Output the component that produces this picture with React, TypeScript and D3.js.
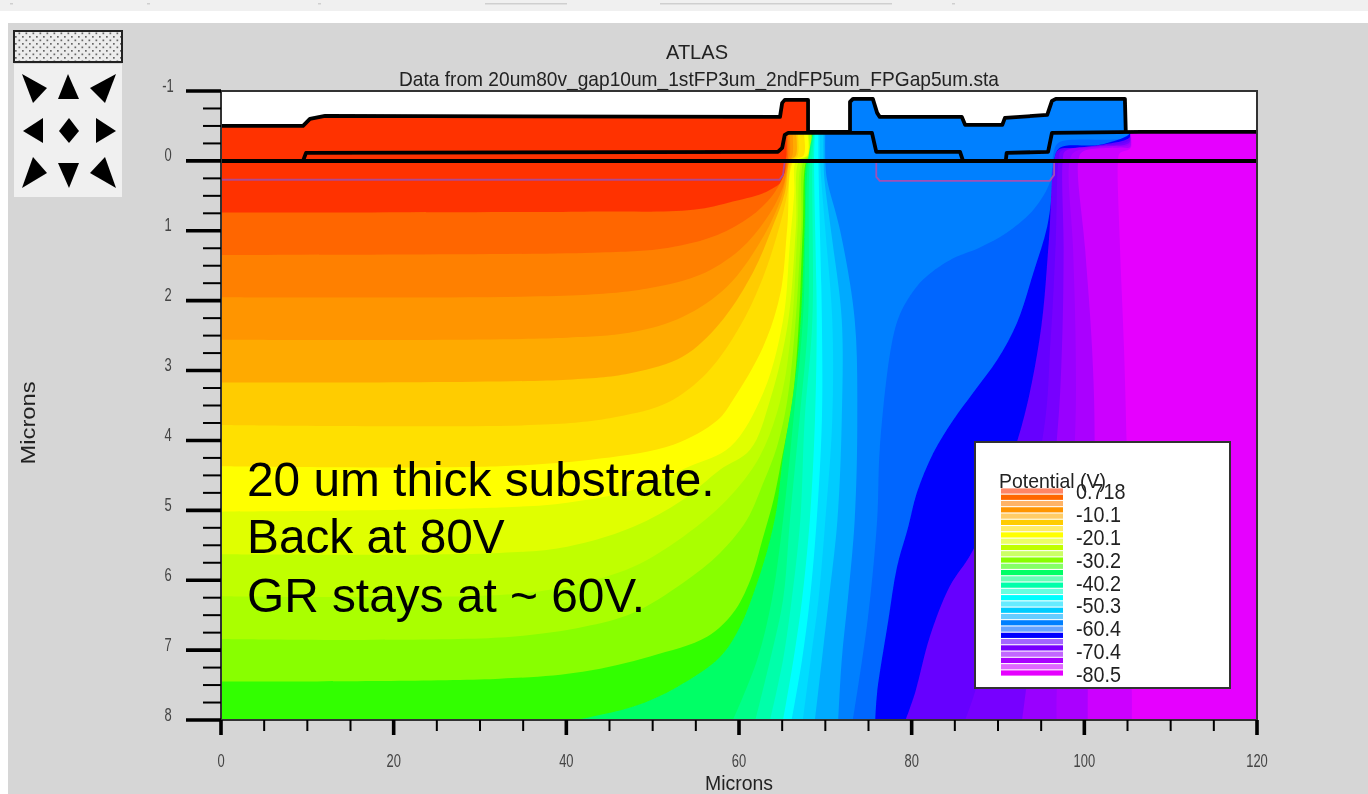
import React from 'react';
import * as d3 from 'd3';

type Pt = [number, number];

// depth axis points down, the oxide sits at negative microns
const xTickLabels = [0, 20, 40, 60, 80, 100, 120];
const yTickLabels = [-1, 0, 1, 2, 3, 4, 5, 6, 7, 8];
const legendLabels = ['0.718', '-10.1', '-20.1', '-30.2', '-40.2', '-50.3', '-60.4', '-70.4', '-80.5'];
const noteLines = ['20 um thick substrate.', 'Back at 80V', 'GR stays at ~ 60V.'];

const bandColors = [
  '#ff3300', '#ff6600', '#ff8000', '#ff9500', '#ffaa00', '#ffcc00', '#ffe000', '#ffff00', '#e0ff00', '#c0ff00',
  '#aaff00', '#88ff00', '#33ff00', '#00ff66', '#00ff88', '#00ffaa', '#00ffcc', '#00ffff', '#00ddff', '#00ccff',
  '#00aaff', '#0080ff', '#0066ff', '#0000ff', '#6600ff', '#7700ff', '#9900ff', '#aa00ff', '#cc00ff', '#e600ff',
];

// boundary i is where bandColors[i + 1] starts in microns
const contours: Pt[][] = [
  [[0, .74], [41.9, .727], [54.7, .7], [59.3, .58], [63.2, .44], [65.1, .27], [65.4, 0], [65.5, -.08], [65.5, -.415]],
  [[0, 1.345], [43.9, 1.31], [51.7, 1.245], [57.5, 1.06], [61.3, .8], [63.9, .49], [65.3, .17], [65.6, 0], [65.7, -.08], [65.7, -.415]],
  [[0, 1.95], [41.9, 1.92], [49.7, 1.82], [55.5, 1.63], [60.1, 1.27], [63.2, .82], [65.1, .37], [65.7, 0], [65.9, -.08], [65.9, -.415]],
  [[0, 2.56], [40.1, 2.53], [47.7, 2.45], [53.5, 2.23], [58.6, 1.8], [62.4, 1.17], [64.8, .56], [65.6, .13], [65.8, 0], [66.2, -.08], [66.2, -.415]],
  [[0, 3.17], [40.1, 3.13], [47.7, 3.03], [53.5, 2.8], [57.8, 2.32], [61.6, 1.6], [63.9, .94], [65.3, .46], [65.9, 0], [66.6, -.08], [66.6, -.415]],
  [[0, 3.78], [38.1, 3.77], [45.9, 3.66], [51.7, 3.46], [56.3, 3.03], [60.1, 2.37], [62.8, 1.66], [64.8, .89], [65.6, .46], [66.1, 0], [66.8, -.08], [66.8, -.415]],
  [[0, 4.37], [32.3, 4.37], [43.9, 4.26], [52.4, 4.06], [57.5, 3.71], [59.3, 3.42], [62.8, 2.66], [64.8, 1.89], [65.6, .94], [66.3, 0], [67.5, -.08], [67.5, -.415]],
  [[0, 5.02], [32.3, 4.96], [40.1, 4.89], [47.7, 4.71], [54.3, 4.37], [59, 4.09], [62.8, 3.32], [65.1, 2.28], [65.9, 1.17], [66.4, .46], [66.6, 0], [67.9, -.08], [67.9, -.415]],
  [[0, 5.63], [32.3, 5.61], [40.1, 5.52], [47.7, 5.24], [53.5, 4.85], [57.8, 4.42], [61.3, 4.13], [63.6, 3.42], [65.6, 2.37], [66.6, .94], [66.95, 0], [68, -.08], [68, -.415]],
  [[0, 6.23], [32.3, 6.21], [40.1, 6.09], [47.7, 5.81], [53.5, 5.38], [58.6, 4.85], [62.4, 4.23], [64.8, 3.42], [66.1, 2.37], [66.8, .94], [67.3, 0], [68.1, -.08], [68.1, -.415]],
  [[0, 6.84], [32.3, 6.82], [41.9, 6.67], [47.7, 6.47], [53.5, 6.04], [57.8, 5.61], [60.9, 5.14], [62.8, 4.61], [64.4, 4.09], [65.6, 3.42], [66.5, 2.37], [67.2, .94], [67.5, 0], [68.3, -.08], [68.3, -.415]],
  [[0, 7.45], [32.3, 7.41], [41.9, 7.31], [49.7, 7.09], [56.3, 6.81], [59.3, 6.47], [61.3, 6], [62.8, 5.38], [64, 4.85], [65, 4.23], [66.2, 3.42], [66.9, 2.37], [67.4, .94], [67.8, 0], [68.4, -.08], [68.4, -.415]],
  [[41, 8], [47.7, 7.81], [52.8, 7.53], [57.8, 7.1], [60.1, 6.67], [62.1, 6.04], [63.6, 5.42], [64.4, 4.95], [65.1, 4.23], [66.3, 3.32], [67.1, 2.37], [67.6, .94], [67.9, 0], [68.5, -.08], [68.5, -.415]],
  [[59.3, 8], [62.1, 7.14], [63.8, 6.28], [65.1, 5.14], [66.3, 3.71], [67.4, 2.27], [68, 0], [68.6, -.415]],
  [[61.9, 8], [63.6, 7.14], [65.1, 6.28], [65.9, 5.14], [67, 3.71], [68, 2.27], [68.2, 0], [68.7, -.415]],
  [[63.6, 8], [65.1, 7.14], [66.1, 6.28], [67.1, 5.14], [67.6, 3.71], [68.5, 2.27], [68.5, 0], [68.7, -.415]],
  [[65.1, 8], [66.3, 7.14], [67.3, 6.28], [68.2, 5.14], [68.8, 3.71], [69, 2.27], [68.7, 0], [68.8, -.415]],
  [[66.1, 8], [67.3, 7.14], [68.2, 6.28], [69, 5.14], [69.6, 3.71], [69.6, 2.27], [69.2, 0], [69.2, -.415]],
  [[67.4, 8], [68.3, 7.14], [69.2, 6.28], [70, 5.14], [70.8, 3.71], [70.8, 2.27], [70, .99], [69.4, 0], [69.4, -.415]],
  [[68.8, 8], [69.6, 7.14], [70.4, 6.28], [71.4, 5.14], [71.9, 3.71], [71.9, 2.27], [70.8, 1.13], [69.9, .27], [69.8, 0], [69.8, -.415]],
  [[71.5, 8], [71.9, 7.14], [72.6, 6.28], [73.4, 5.14], [73.7, 3.71], [73.4, 2.27], [71.7, .99], [70.2, .27], [70, 0], [70, -.415]],
  [[73.2, 8], [74.9, 6.57], [76, 5.14], [76.3, 4.13], [77.5, 2.75], [78.4, 2.27], [79.5, 1.99], [81.3, 1.7], [84.4, 1.42], [87.9, 1.24], [91, 1.03], [94.1, .7], [96, .31], [96.3, .06], [96.4, -.09], [97, -.26], [104.8, -.33], [105.3, -.415]],
  [[75.8, 8], [76, 7.61], [77.3, 6.57], [78.3, 5.81], [79.6, 5.24], [80.6, 4.75], [82.5, 4.18], [84.8, 3.71], [87.1, 3.32], [89.9, 2.85], [92.2, 2.32], [94.1, 1.6], [95.7, .94], [96.4, .27], [96.5, -.01], [97.2, -.19], [101.8, -.23], [105.1, -.37], [105.3, -.415]],
  [[79.3, 8], [80.4, 7.61], [82.1, 6.81], [84.4, 6.09], [87.1, 5.57], [92.2, 4.02], [94.8, 2.56], [95.9, 1.13], [96.5, 0], [97, -.16], [99.5, -.19], [105.2, -.33], [105.3, -.415]],
  [[86.2, 8], [87.3, 7.61], [95.1, 4.02], [96.1, 2.56], [96.7, 1.13], [97, 0], [97.3, -.14], [100.7, -.2], [105.2, -.29], [105.3, -.415]],
  [[92.8, 8], [93.2, 7.61], [96.8, 4.02], [97.4, 2.7], [97.6, 1.27], [97.5, 0], [97.8, -.14], [101.6, -.21], [105.2, -.26], [105.3, -.415]],
  [[96.8, 8], [96.8, 7.61], [98.9, 4.02], [99, 2.7], [98.7, 1.27], [98.3, 0], [98.9, -.13], [103, -.21], [105.2, -.23], [105.3, -.415]],
  [[100.4, 8], [100.4, 7.61], [101.2, 4.02], [100.9, 2.7], [100.1, 1.27], [99.3, 0], [99.8, -.13], [104.1, -.19], [105.3, -.2], [105.3, -.415]],
  [[105.5, 8], [105.5, 7.61], [104.9, 4.02], [104.6, 2.7], [104.1, 1.13], [103.9, 0], [104.1, -.11], [105.1, -.16], [105.4, -.19], [105.4, -.415]],
];

// device outlines
const oxideTop: number = -.415;
const anodeCap: Pt[] = [[0, -.5], [9.5, -.5], [10.3, -.6], [12.05, -.644], [64.75, -.63], [65, -.83], [65.3, -.873], [68, -.873], [68, -.415]];
const ringCap: Pt[] = [[72.86, -.415], [72.86, -.844], [73.2, -.887], [75.5, -.887], [76, -.687], [76.3, -.63], [85.8, -.63], [86.2, -.515], [90.5, -.515], [90.8, -.615], [95.7, -.658], [96.25, -.858], [96.7, -.887], [104.7, -.887], [104.8, -.415]];
const plateLeft: Pt[] = [[9.5, 0], [9.85, -.114], [64.5, -.13], [65, -.186], [65.3, -.372], [65.7, -.4], [75.4, -.4], [75.9, -.13], [85.6, -.13], [85.95, 0]];
const plateRight: Pt[] = [[90.9, 0], [91, -.114], [95.8, -.13], [96.25, -.4], [106.5, -.415], [120, -.415]];
const gapLine: Pt[] = [[68, -.415], [72.86, -.415]];
const junctionLeft: Pt[] = [[0, .27], [64.7, .27], [65.1, .2], [65.3, 0]];
const junctionRight: Pt[] = [[75.9, 0], [75.9, .23], [76.3, .285], [96, .285], [96.5, .2], [96.5, 0]];

// the little pan widget on the left
const panArrows = [
  '22,74 47,88 33,103', '68,74 79,99 58,99', '116,74 90,88 105,103',
  '43,118 23,131 43,143', '69,118 79,131 69,143 59,131', '96,118 116,131 96,143',
  '33,157 47,173 22,188', '58,163 79,163 69,188', '105,157 90,173 116,188',
];
// scraps of the window title bar along the top edge
const titleBarMarks = [[10, 3], [147, 3], [318, 3], [485, 82], [660, 232], [952, 3]];

const x = d3.scaleLinear().domain([0, 120]).range([221, 1257]);
const y = d3.scaleLinear().domain([-1, 8]).range([91, 720]);
const legendY = d3.scaleLinear().domain([0, legendLabels.length - 1]).range([499, 682]);
const legendRowY = d3.scaleLinear().domain([0, bandColors.length - 1]).range([491, 673]);

const xMinor = d3.range(0, 120.01, 5);
const yMinor = d3.range(-1, 8.01, 0.25);

const smooth = d3.line<Pt>().x(d => x(d[0])).y(d => y(d[1])).curve(d3.curveCatmullRom.alpha(0.5));
const straight = d3.line<Pt>().x(d => x(d[0])).y(d => y(d[1]));

// painted back to front: each band covers everything to the right of and below its boundary
const bandPath = (pts: Pt[]) => {
  const start = pts[0];
  const rest = [[120, oxideTop], [120, 8], [start[0], 8]] as Pt[];
  return smooth(pts) + rest.map(p => `L${x(p[0])},${y(p[1])}`).join('') + 'Z';
};

const FONT = '"Liberation Sans", Arial, sans-serif';
const LINE = '#000';

export default function App() {
  return (
    <svg width={1368} height={794} style={{ position: 'absolute', left: 0, top: 0, display: 'block' }} fontFamily={FONT}>
      <defs>
        <filter id="soft" filterUnits="userSpaceOnUse" x="0" y="0" width="1368" height="794">
          <feGaussianBlur stdDeviation="0.55" />
        </filter>
        <pattern id="dots" width="7" height="7" patternUnits="userSpaceOnUse">
          <rect width="7" height="7" fill="#ececec" />
          <rect x="1" y="1" width="1.7" height="1.7" fill="#666" />
          <rect x="4.5" y="4.5" width="1.7" height="1.7" fill="#666" />
        </pattern>
        <clipPath id="plot">
          <rect x={x(0)} y={y(-1)} width={x(120) - x(0)} height={y(8) - y(-1)} />
        </clipPath>
      </defs>

      <rect width={1368} height={794} fill="#fff" />
      <rect width={1368} height={11} fill="#f0f0f0" />
      {titleBarMarks.map(m => <rect key={m[0]} x={m[0]} y={3} width={m[1]} height={1.5} fill="#cfcfcf" />)}
      <rect x={8} y={23} width={1360} height={771} fill="#d6d6d6" />

      <g filter="url(#soft)">
        <rect x={14} y={31} width={108} height={31} fill="url(#dots)" stroke="#222" strokeWidth={2} />
        <rect x={14} y={64} width={108} height={133} fill="#f0f0f0" />
        {panArrows.map((p, i) => <polygon key={i} points={p} fill="#000" />)}

        <text x={697} y={59} textAnchor="middle" fontSize={21} fill="#222" textLength={62} lengthAdjust="spacingAndGlyphs">ATLAS</text>
        <text x={699} y={86} textAnchor="middle" fontSize={21} fill="#222" textLength={600} lengthAdjust="spacingAndGlyphs">Data from 20um80v_gap10um_1stFP3um_2ndFP5um_FPGap5um.sta</text>

        <rect x={x(0)} y={y(-1)} width={x(120) - x(0)} height={y(8) - y(-1)} fill="#fff" />
        <g clipPath="url(#plot)">
          <rect x={x(0)} y={y(oxideTop)} width={x(120) - x(0)} height={y(8) - y(oxideTop)} fill={bandColors[0]} />
          {contours.map((c, i) => <path key={i} d={bandPath(c)} fill={bandColors[i + 1]} />)}
          <path d={straight([[0, 0], ...anodeCap, [65.3, -.4], [65.3, 0]] as Pt[]) + 'Z'} fill={bandColors[0]} />
          <path d={straight(ringCap) + 'Z'} fill={bandColors[21]} />
          <path d={straight(junctionLeft)!} fill="none" stroke="#b04a90" strokeWidth={1.8} />
          <path d={straight(junctionRight)!} fill="none" stroke="#a050b8" strokeWidth={1.8} />
          {[anodeCap, ringCap, plateLeft, plateRight, gapLine].map((p, i) => (
            <path key={i} d={straight(p)!} fill="none" stroke={LINE} strokeWidth={3.8} strokeLinejoin="round" />
          ))}
          <line x1={x(0)} x2={x(120)} y1={y(0)} y2={y(0)} stroke={LINE} strokeWidth={4} />
        </g>

        <rect x={x(0)} y={y(-1)} width={x(120) - x(0)} height={y(8) - y(-1)} fill="none" stroke="#333" strokeWidth={2} />

        {yMinor.map(v => (
          <line key={v} x1={Number.isInteger(v) ? 186 : 203} x2={x(0)} y1={y(v)} y2={y(v)} stroke={LINE} strokeWidth={Number.isInteger(v) ? 3.6 : 2} />
        ))}
        {xMinor.map(v => (
          <line key={v} x1={x(v)} x2={x(v)} y1={y(8)} y2={v % 20 === 0 ? 735 : 731} stroke={LINE} strokeWidth={v % 20 === 0 ? 3.6 : 2} />
        ))}
        {yTickLabels.map(v => (
          <text key={v} transform={`translate(168,${y(v) + 0.5}) scale(.72,1)`} textAnchor="middle" fontSize={18} fill="#444">{v}</text>
        ))}
        {xTickLabels.map(v => (
          <text key={v} transform={`translate(${x(v)},767) scale(.72,1)`} textAnchor="middle" fontSize={18} fill="#444">{v}</text>
        ))}
        <text x={739} y={790} textAnchor="middle" fontSize={21} fill="#222" textLength={68} lengthAdjust="spacingAndGlyphs">Microns</text>
        <text transform="translate(35,423) rotate(-90)" textAnchor="middle" fontSize={21} fill="#222" textLength={83} lengthAdjust="spacingAndGlyphs">Microns</text>

        <rect x={975} y={442} width={255} height={246} fill="#fff" stroke="#333" strokeWidth={2} />
        <text x={999} y={488} fontSize={21} fill="#222" textLength={107} lengthAdjust="spacingAndGlyphs">Potential (V)</text>
        {bandColors.map((c, i) => (
          <rect key={c} x={1001} y={legendRowY(i) - 2.6} width={62} height={5.2} fill={c} opacity={i % 2 ? 1 : 0.6} />
        ))}
        {legendLabels.map((l, i) => (
          <text key={l} transform={`translate(1076,${legendY(i)}) scale(.9,1)`} fontSize={22} fill="#222">{l}</text>
        ))}
      </g>

      {noteLines.map((l, i) => (
        <text key={l} x={247} y={[496, 553, 612][i]} fontSize={47.8} fill="#000">{l}</text>
      ))}
    </svg>
  );
}
